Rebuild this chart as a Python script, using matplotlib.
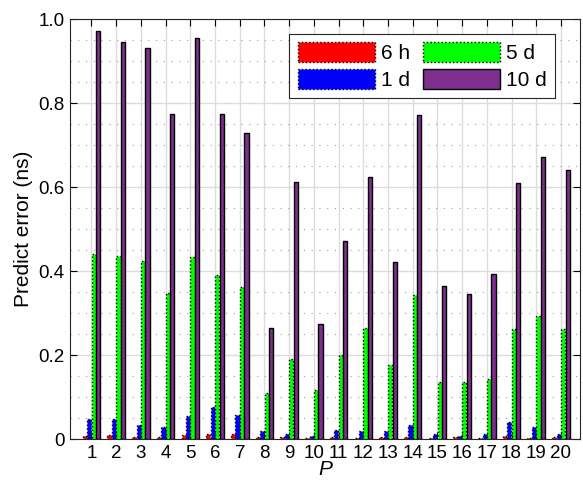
#!/usr/bin/env python3

import numpy as np
import matplotlib
matplotlib.use('Agg')
import matplotlib.pyplot as plt
import matplotlib.ticker as mticker


# Data ==============================================================
p_idx = list(range(1, 21))
series_names = ['6 h', '1 d', '5 d', '10 d']

err_6h = [0.006, 0.010, 0.005, 0.005, 0.010, 0.012, 0.012, 0.004, 0.004, 0.002,
          0.004, 0.002, 0.004, 0.004, 0.003, 0.004, 0.003, 0.008, 0.002, 0.004]
err_1d = [0.048, 0.047, 0.033, 0.029, 0.055, 0.077, 0.057, 0.020, 0.011, 0.007,
          0.021, 0.020, 0.020, 0.033, 0.011, 0.006, 0.013, 0.040, 0.029, 0.011]
err_5d = [0.440, 0.436, 0.424, 0.348, 0.434, 0.390, 0.361, 0.109, 0.190, 0.117,
          0.200, 0.265, 0.176, 0.343, 0.136, 0.136, 0.144, 0.262, 0.293, 0.263]
err_10d = [0.971, 0.946, 0.932, 0.775, 0.955, 0.775, 0.728, 0.265, 0.613, 0.273,
           0.471, 0.625, 0.422, 0.771, 0.364, 0.345, 0.392, 0.610, 0.671, 0.640]


def main():
    plt.rcParams['font.family'] = ['Liberation Sans', 'DejaVu Sans']
    txt_fnt = 13.5

    fig = plt.figure(figsize=(5.83, 4.84), dpi=100)
    ax = fig.add_axes([70/583, 45/484, 510/583, 420/484])

    x = np.array(p_idx, dtype=float)
    bar_w = 0.17
    step = 0.18
    offs = [-1.5*step, -0.5*step, 0.5*step, 1.5*step]
    colors = ['#ff0000', '#0000ff', '#00ff00', '#7e2f8e']
    styles = [':', ':', ':', '-']
    all_vals = [err_6h, err_1d, err_5d, err_10d]

    for vals, off, col, ls, nm in zip(all_vals, offs, colors, styles, series_names):
        ax.bar(x + off, vals, bar_w, color=col, edgecolor='black',
               linewidth=1.0, linestyle=ls, label=nm, zorder=3)

    ax.set_xlim(0.13, 20.77)
    ax.set_ylim(0, 1.0)
    ax.set_xticks(x)
    ax.set_xticklabels([str(i) for i in p_idx])
    ax.set_yticks([0, 0.2, 0.4, 0.6, 0.8, 1.0])
    ax.set_yticklabels(['0', '0.2', '0.4', '0.6', '0.8', '1.0'])
    ax.yaxis.set_minor_locator(mticker.MultipleLocator(0.05))

    ax.tick_params(which='major', direction='in', top=True, right=True,
                   length=5, width=0.8, labelsize=txt_fnt, pad=4)
    ax.tick_params(axis='x', pad=4)
    ax.tick_params(which='minor', length=0)
    ax.grid(which='major', color='#dcdcdc', linewidth=1.0, linestyle='-', zorder=0)
    ax.grid(which='minor', axis='y', color='#a0a0a0', linewidth=0.8,
            linestyle=(0, (1, 6)), zorder=0)
    ax.set_axisbelow(True)
    for sp in ax.spines.values():
        sp.set_color('#262626')
        sp.set_linewidth(0.8)

    ax.set_xlabel('P', fontsize=15, fontstyle='italic', labelpad=-1)
    ax.set_ylabel('Predict error (ns)', fontsize=15, labelpad=4)

    handles, labels = ax.get_legend_handles_labels()
    leg = ax.legend(handles, labels, ncol=2, loc='upper right',
                    bbox_to_anchor=(485/510, 1 - 15/420), borderaxespad=0,
                    fontsize=15, handlelength=3.7, handleheight=1.05,
                    columnspacing=0.6, handletextpad=0.3, labelspacing=0.3,
                    borderpad=0.4, fancybox=False, framealpha=1.0,
                    edgecolor='#262626')
    leg.get_frame().set_linewidth(0.8)

    fig.savefig('out.png', dpi=100)
    plt.close('all')


if __name__ == '__main__':
    main()
